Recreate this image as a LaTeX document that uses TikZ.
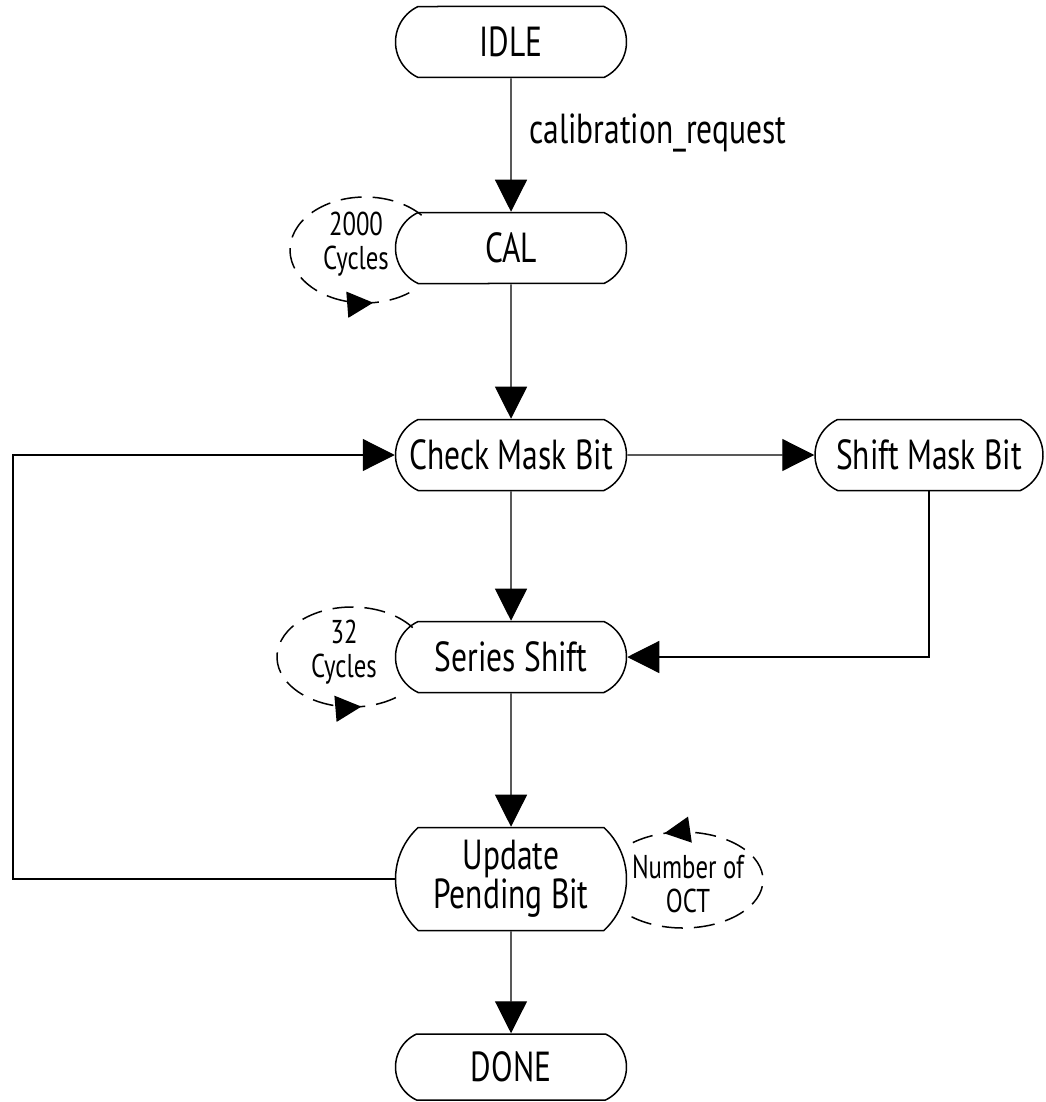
\documentclass[tikz,border=0pt]{standalone}
\usepackage{fontspec}
\setmainfont{PT Sans}[FakeStretch=0.75]
\usetikzlibrary{shapes.misc,arrows.meta,decorations.markings}
\newcommand{\mainsz}{\fontsize{42}{38}\selectfont}
\newcommand{\loopsz}{\fontsize{33}{34}\selectfont}
\begin{document}
\begin{tikzpicture}[x=1pt,y=-1pt,
  state/.style={rounded rectangle, rounded rectangle arc length=130, draw, line width=1.5pt,
    minimum width=231pt, minimum height=71pt, inner sep=0pt, fill=white, font=\mainsz, align=center},
  conn/.style={line width=1.2pt, -{Triangle[length=32pt,width=32pt]}},
  looppath/.style={line width=1.5pt, dash pattern=on 21pt off 11pt,
    postaction={decorate, decoration={markings, mark=at position #1 with {\arrow{Triangle[length=26pt,width=26pt]}}}}},
  looptext/.style={font=\loopsz, align=center, inner sep=0pt}
]
\useasboundingbox (0,0) rectangle (1045,1102);
\node[state] (idle) at (511,42) {IDLE};
\node[state] (cal) at (511,248) {CAL};
\node[state] (check) at (511,455) {Check Mask Bit};
\node[state, minimum width=228pt] (shift) at (929,455) {Shift Mask Bit};
\node[state] (series) at (511,657) {Series Shift};
\node[state, minimum height=103pt, rounded rectangle arc length=95] (update) at (511,879) {Update\\Pending Bit};
\node[state, minimum height=66pt] (done) at (511,1067) {DONE};

\node[anchor=west, font=\mainsz, inner sep=0pt] (lbl) at (529,133) {calibration\_request};

\draw[conn] (idle) -- (cal);
\draw[conn] (cal) -- (check);
\draw[conn] (check) -- (shift);
\draw[conn] (check) -- (series);
\draw[conn] (shift.south) |- (series.east);
\draw[conn] (series) -- (update);
\draw[conn] (update) -- (done);
\coordinate (lft) at (13,455);
\draw[conn] (update.west) -| (lft) -- (check.west);

% loops
\coordinate (calL) at (365,250);
\draw[looppath=0.85] (calL) ++(41:75pt and 53pt) arc[start angle=41, end angle=315, x radius=75pt, y radius=53pt];
\node[looptext] (calt) at (356,244) {2000\\Cycles};

\coordinate (serL) at (352,657);
\draw[looppath=0.88] (serL) ++(36:75pt and 50pt) arc[start angle=36, end angle=307, x radius=75pt, y radius=50pt];
\node[looptext] (sert) at (344,652) {32\\Cycles};

\coordinate (updL) at (683,880);
\draw[looppath=0.87] (updL) ++(-130:80pt and 48pt) arc[start angle=-130, end angle=136, x radius=80pt, y radius=48pt];
\node[looptext] (updt) at (688,884) {Number of\\OCT};
\end{tikzpicture}
\end{document}
